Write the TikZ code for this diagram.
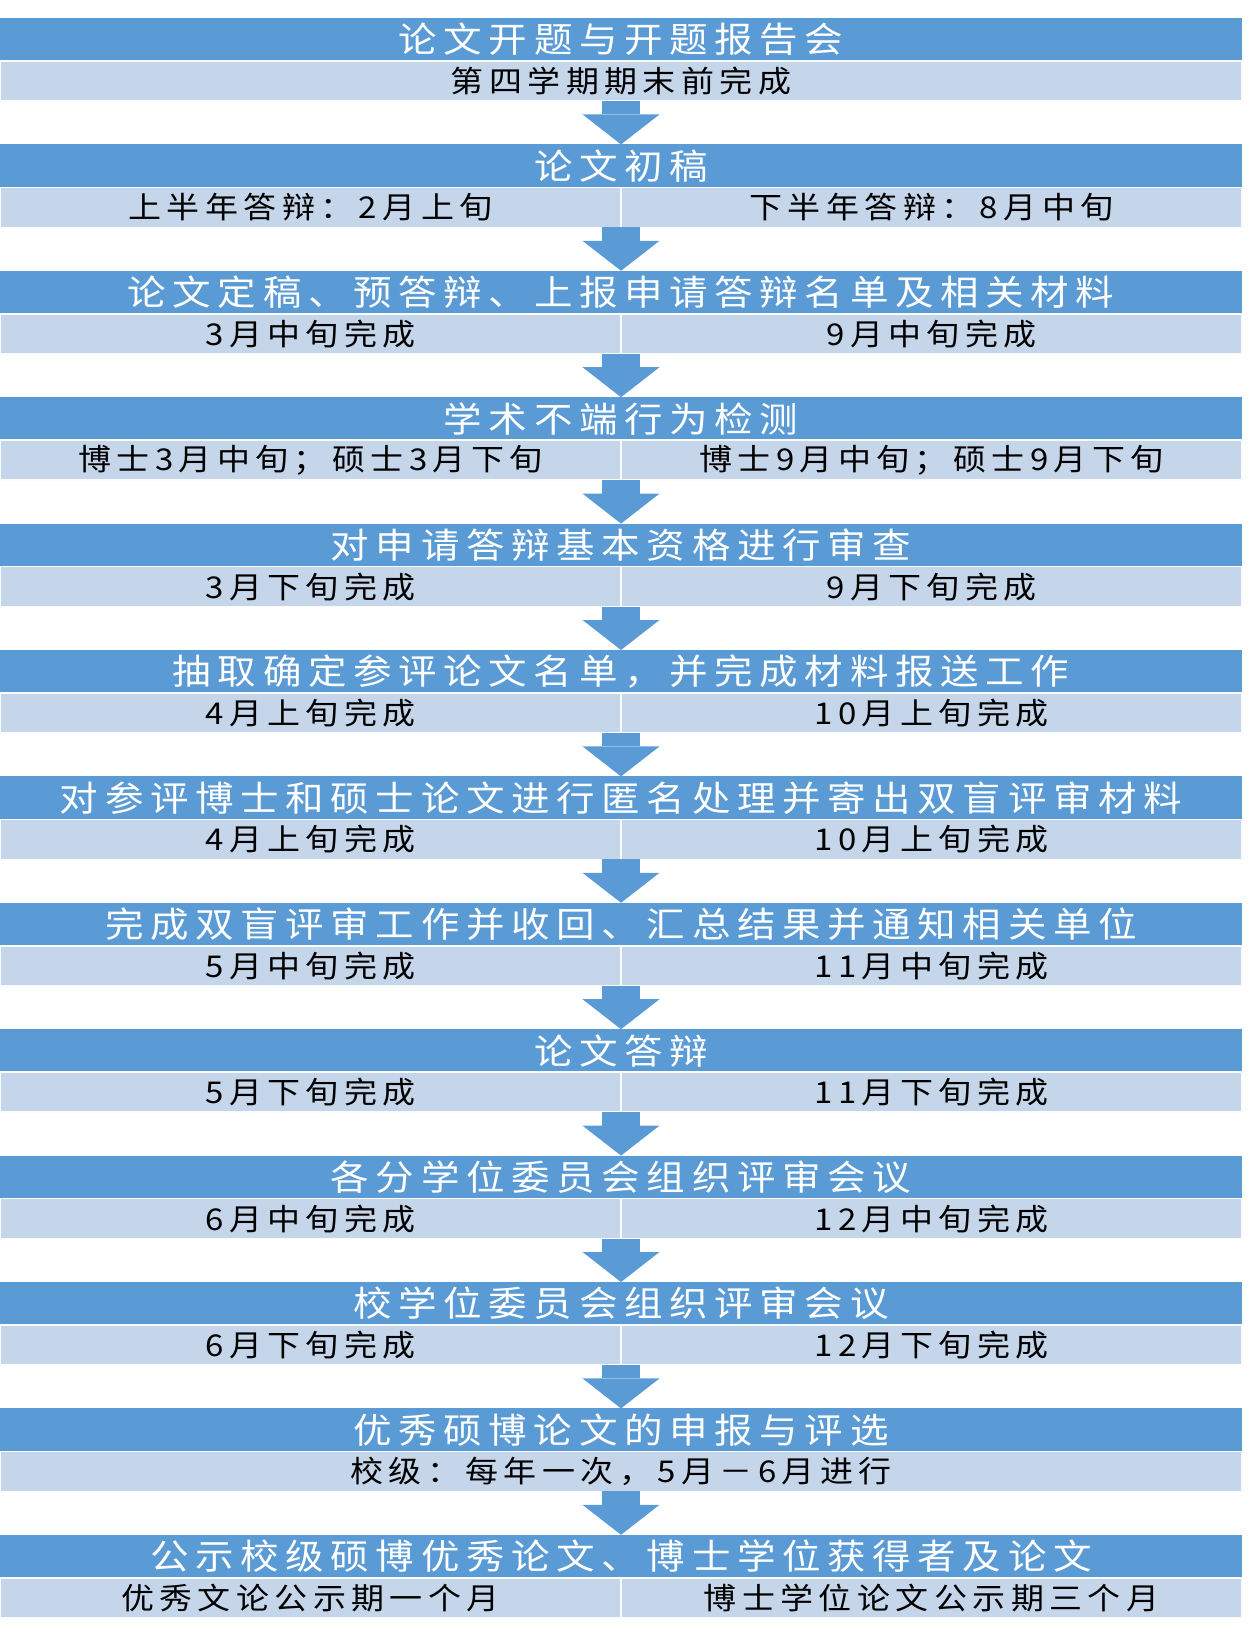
\documentclass[tikz,border=0pt]{standalone}
\usepackage{fontspec}
\usepackage{xcolor}
\usepackage{tikz}
\usetikzlibrary{arrows.meta}
\newfontfamily\headcjk[FakeStretch=1.1, LetterSpace=19]{Noto Sans CJK SC}
\newfontfamily\subcjk[FakeStretch=1.1, LetterSpace=18]{Noto Sans CJK SC}
\definecolor{barblue}{RGB}{91,155,213}
\definecolor{paleblue}{RGB}{197,214,235}
\tikzstyle{headbar} = [rectangle, fill=barblue, draw=none, anchor=north west, minimum width=1242pt, minimum height=43pt, inner sep=0pt, outer sep=0pt, text=white, font=\headcjk\fontsize{35}{36}\selectfont]
\tikzstyle{subbar} = [rectangle, fill=paleblue, draw=white!90!paleblue, line width=1.5pt, minimum height=40pt, inner sep=0pt, outer sep=0pt, text=black, font=\subcjk\fontsize{30}{32}\selectfont]
\tikzstyle{half} = [subbar, minimum width=621pt]
\tikzstyle{whole} = [subbar, minimum width=1242pt, anchor=north west]
\tikzstyle{flow} = [draw=barblue, line width=38pt, -{Triangle[width=77pt, length=30pt, line width=0pt]}]

\begin{document}
\begin{tikzpicture}[x=1pt, y=-1pt]
	\useasboundingbox (0,0) rectangle (1249,1639) ;

	\node[headbar] (h1) at (0, 18) {论文开题与开题报告会} ;
	\node[whole] (s1) at (h1.south west) {第四学期期末前完成} ;

	\node[headbar] (h2) at (0, 144.4) {论文初稿} ;
	\node[half, anchor=north west] (s2a) at (h2.south west) {上半年答辩：2月上旬} ;
	\node[half, anchor=north east] (s2b) at (h2.south east) {下半年答辩：8月中旬} ;

	\node[headbar] (h3) at (0, 270.8) {论文定稿、预答辩、上报申请答辩名单及相关材料} ;
	\node[half, anchor=north west] (s3a) at (h3.south west) {3月中旬完成} ;
	\node[half, anchor=north east] (s3b) at (h3.south east) {9月中旬完成} ;

	\node[headbar] (h4) at (0, 397.2) {学术不端行为检测} ;
	\node[half, anchor=north west] (s4a) at (h4.south west) {博士3月中旬；硕士3月下旬} ;
	\node[half, anchor=north east] (s4b) at (h4.south east) {博士9月中旬；硕士9月下旬} ;

	\node[headbar] (h5) at (0, 523.6) {对申请答辩基本资格进行审查} ;
	\node[half, anchor=north west] (s5a) at (h5.south west) {3月下旬完成} ;
	\node[half, anchor=north east] (s5b) at (h5.south east) {9月下旬完成} ;

	\node[headbar] (h6) at (0, 650) {抽取确定参评论文名单，并完成材料报送工作} ;
	\node[half, anchor=north west] (s6a) at (h6.south west) {4月上旬完成} ;
	\node[half, anchor=north east] (s6b) at (h6.south east) {10月上旬完成} ;

	\node[headbar] (h7) at (0, 776.4) {对参评博士和硕士论文进行匿名处理并寄出双盲评审材料} ;
	\node[half, anchor=north west] (s7a) at (h7.south west) {4月上旬完成} ;
	\node[half, anchor=north east] (s7b) at (h7.south east) {10月上旬完成} ;

	\node[headbar] (h8) at (0, 902.8) {完成双盲评审工作并收回、汇总结果并通知相关单位} ;
	\node[half, anchor=north west] (s8a) at (h8.south west) {5月中旬完成} ;
	\node[half, anchor=north east] (s8b) at (h8.south east) {11月中旬完成} ;

	\node[headbar] (h9) at (0, 1029.2) {论文答辩} ;
	\node[half, anchor=north west] (s9a) at (h9.south west) {5月下旬完成} ;
	\node[half, anchor=north east] (s9b) at (h9.south east) {11月下旬完成} ;

	\node[headbar] (h10) at (0, 1155.6) {各分学位委员会组织评审会议} ;
	\node[half, anchor=north west] (s10a) at (h10.south west) {6月中旬完成} ;
	\node[half, anchor=north east] (s10b) at (h10.south east) {12月中旬完成} ;

	\node[headbar] (h11) at (0, 1282) {校学位委员会组织评审会议} ;
	\node[half, anchor=north west] (s11a) at (h11.south west) {6月下旬完成} ;
	\node[half, anchor=north east] (s11b) at (h11.south east) {12月下旬完成} ;

	\node[headbar] (h12) at (0, 1408.4) {优秀硕博论文的申报与评选} ;
	\node[whole] (s12) at (h12.south west) {校级：每年一次，5月－6月进行} ;

	\node[headbar] (h13) at (0, 1534.8) {公示校级硕博优秀论文、博士学位获得者及论文} ;
	\node[half, anchor=north west] (s13a) at (h13.south west) {优秀文论公示期一个月} ;
	\node[half, anchor=north east] (s13b) at (h13.south east) {博士学位论文公示期三个月} ;

	\draw[flow] (s1.south) -- (h2.north) ;
	\draw[flow] (s2a.south east) -- (h3.north) ;
	\draw[flow] (s3a.south east) -- (h4.north) ;
	\draw[flow] (s4a.south east) -- (h5.north) ;
	\draw[flow] (s5a.south east) -- (h6.north) ;
	\draw[flow] (s6a.south east) -- (h7.north) ;
	\draw[flow] (s7a.south east) -- (h8.north) ;
	\draw[flow] (s8a.south east) -- (h9.north) ;
	\draw[flow] (s9a.south east) -- (h10.north) ;
	\draw[flow] (s10a.south east) -- (h11.north) ;
	\draw[flow] (s11a.south east) -- (h12.north) ;
	\draw[flow] (s12.south) -- (h13.north) ;
\end{tikzpicture}
\end{document}
